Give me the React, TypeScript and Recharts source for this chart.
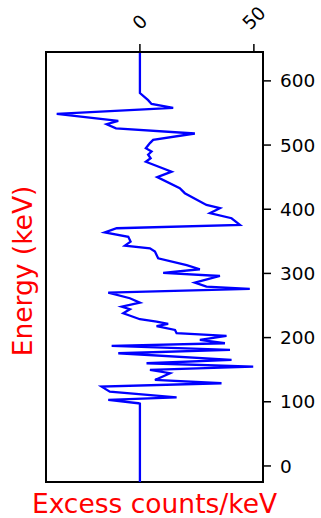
import { LineChart, Line, XAxis, YAxis, ReferenceArea } from "recharts"

// energy (keV) and excess counts/keV
const energies = [
  -25, 97, 97.7, 102.9, 107, 115.8, 123.6, 128.9, 134, 144.5, 149.6, 154.8, 160,
  165.2, 175.6, 180.8, 187, 191.2, 196.4, 202.6, 206.8, 212, 218, 221.3, 224.9,
  228.6, 238, 244.2, 248.3, 254.5, 261.3, 270, 275.8, 279.4, 285.6, 296, 301,
  306.5, 313, 323.6, 334, 339, 343.3, 349.6, 357, 364, 370.4, 375.6, 386, 393.8,
  401.6, 406.7, 425, 432.7, 450, 458.6, 474, 479.5, 485, 490, 495, 503, 508, 518,
  526, 532.5, 537.6, 548.5, 558, 564, 570, 581, 645,
]
const counts = [
  0, 0, -0.7, -13.9, 16.1, -13.2, -16.8, 35.8, 6.6, 13.2, 4.4, 49.7, 2.9, 40.2,
  -9.5, 39.5, -12.4, 37.3, 26.3, 38, 16.1, 15.4, 7.3, 12.4, 7.3, 0, -7.3, -4.4,
  -8, 0, -4.4, -13.9, 48.2, 29.2, 24.1, 35.1, 10.2, 26.3, 20.5, 8, 6.6, 4.4, -6.6,
  -4.1, -5.1, -15.4, -10.2, 43.9, 40.2, 30.7, 35.1, 29.2, 19.7, 17.5, 7.6, 13.9,
  2.6, 4.7, 3.6, 5.1, 2.6, 4.4, 5.8, 24.1, -10.5, -14.6, -9.5, -36.5, 14.6, 5.1,
  3.6, 0, 0,
]
const countTicks = [0, 50]
const energyTicks = [0, 100, 200, 300, 400, 500, 600]

const COUNT_DOMAIN: [number, number] = [-41.2, 54]
const ENERGY_DOMAIN: [number, number] = [-25, 645]

const FONT = "'DejaVu Sans', sans-serif"
const TICK_FS = 18.5
const LABEL_FS = 26.5

const data = energies.map((e, i) => ({ e, v: counts[i] }))

// matplotlib-style 45° tick label sitting above the top axis
const TopTick = (props: any) => {
  const { x, y, payload } = props
  const s = String(payload.value)
  const w = s.length * 0.636 * TICK_FS
  const h = 0.73 * TICK_FS
  const half = (w + h) / (2 * Math.SQRT2)
  const cy = y - half
  return (
    <text
      x={x}
      y={cy}
      textAnchor="middle"
      dominantBaseline="central"
      transform={`rotate(-45, ${x}, ${cy})`}
      fontSize={TICK_FS}
      fontFamily={FONT}
      fill="#000"
    >
      {s}
    </text>
  )
}

export default function App() {
  return (
    <div style={{ position: "absolute", left: 0, top: 0, fontFamily: FONT }}>
      <LineChart
        layout="vertical"
        width={321}
        height={518}
        data={data}
        margin={{ top: 0, right: 0, bottom: 0, left: 0 }}
      >
        <XAxis
          xAxisId="top"
          orientation="top"
          type="number"
          domain={COUNT_DOMAIN}
          ticks={countTicks}
          height={52}
          tickSize={8}
          tickMargin={13}
          axisLine={{ stroke: "#000", strokeWidth: 2 }}
          tickLine={{ stroke: "#000", strokeWidth: 1.5 }}
          tick={<TopTick />}
          allowDataOverflow
        />
        <XAxis
          xAxisId="bottom"
          orientation="bottom"
          type="number"
          domain={COUNT_DOMAIN}
          height={36}
          tick={false}
          tickLine={false}
          axisLine={false}
          allowDataOverflow
          label={{
            content: (p: any) => {
              const vb = p.viewBox
              return (
                <text
                  x={vb.x + vb.width / 2}
                  y={vb.y + 31}
                  textAnchor="middle"
                  fontSize={LABEL_FS}
                  fontFamily={FONT}
                  fill="#ff0000"
                >
                  Excess counts/keV
                </text>
              )
            },
          }}
        />
        <YAxis
          yAxisId="right"
          orientation="right"
          type="number"
          dataKey="e"
          domain={ENERGY_DOMAIN}
          ticks={energyTicks}
          reversed
          width={58}
          tickSize={8}
          tickMargin={9}
          axisLine={{ stroke: "#000", strokeWidth: 2 }}
          tickLine={{ stroke: "#000", strokeWidth: 1.5 }}
          tick={{ fill: "#000", fontSize: TICK_FS, fontFamily: FONT }}
          allowDataOverflow
        />
        <YAxis
          yAxisId="left"
          orientation="left"
          type="number"
          domain={ENERGY_DOMAIN}
          reversed
          width={46}
          tick={false}
          tickLine={false}
          axisLine={false}
          allowDataOverflow
          label={{
            content: (p: any) => {
              const vb = p.viewBox
              const lx = vb.x + vb.width - 14
              const ly = vb.y + vb.height / 2 + 4
              return (
                <text
                  x={lx}
                  y={ly}
                  textAnchor="middle"
                  transform={`rotate(-90, ${lx}, ${ly})`}
                  fontSize={LABEL_FS}
                  fontFamily={FONT}
                  fill="#ff0000"
                >
                  Energy (keV)
                </text>
              )
            },
          }}
        />
        <ReferenceArea
          xAxisId="top"
          yAxisId="right"
          x1={COUNT_DOMAIN[0]}
          x2={COUNT_DOMAIN[1]}
          y1={ENERGY_DOMAIN[0]}
          y2={ENERGY_DOMAIN[1]}
          fill="none"
          fillOpacity={0}
          stroke="#000"
          strokeWidth={2}
          ifOverflow="visible"
        />
        <Line
          xAxisId="top"
          yAxisId="right"
          dataKey="v"
          type="linear"
          stroke="#0000ff"
          strokeWidth={2.3}
          dot={false}
          isAnimationActive={false}
        />
      </LineChart>
    </div>
  )
}
